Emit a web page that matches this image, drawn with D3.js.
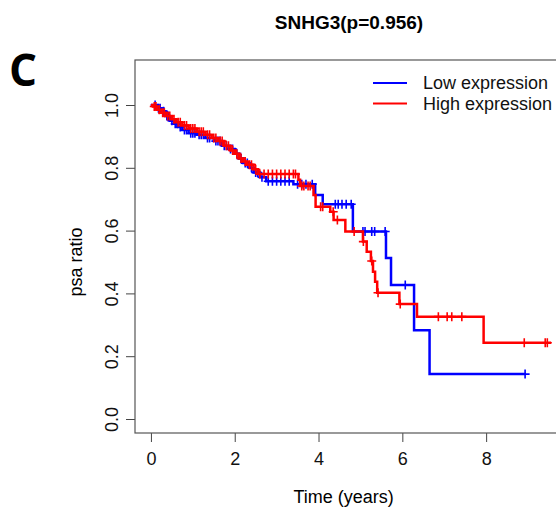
<!DOCTYPE html>
<meta charset="utf-8">
<script src="https://d3js.org/d3.v7.min.js"></script>
<style>
  body { margin: 0; background: #fff; }
  text { font-family: "Liberation Sans", Arial, sans-serif; }
</style>
<div id="chart"></div>
<script>
// Kaplan-Meier steps: time (years) and ratio after each drop
var lowTimes = [0.15, 0.25, 0.35, 0.45, 0.55, 0.65, 0.75, 0.9, 1.1, 1.3, 1.5, 1.7, 1.85, 2.0, 2.1, 2.2, 2.35, 2.45, 2.6, 2.75, 3.4, 3.92, 4.1, 4.82, 5.61, 5.73, 6.28, 6.65];
var lowSurv  = [0.99, 0.98, 0.965, 0.95, 0.94, 0.93, 0.92, 0.91, 0.905, 0.895, 0.885, 0.87, 0.86, 0.845, 0.83, 0.815, 0.8, 0.785, 0.77, 0.757, 0.748, 0.713, 0.684, 0.597, 0.513, 0.427, 0.283, 0.143];
var lowCensor = [0.1, 0.18, 0.22, 0.3, 0.38, 0.42, 0.5, 0.58, 0.62, 0.7, 0.8, 0.85, 0.95, 1.0, 1.05, 1.15, 1.2, 1.25, 1.35, 1.4, 1.55, 1.6, 1.65, 1.75, 1.8, 1.9, 1.95, 2.05, 2.15, 2.25, 2.3, 2.4, 2.5, 2.55, 2.65, 2.8, 2.9, 3.0, 3.1, 3.2, 3.3, 3.5, 3.6, 3.7, 3.85, 4.4, 4.47, 4.56, 4.66, 4.78, 5.06, 5.11, 5.27, 5.34, 5.59, 6.07, 8.93];
var lowEnd = 8.95;

var highTimes = [0.05, 0.15, 0.25, 0.35, 0.5, 0.6, 0.75, 0.9, 1.1, 1.3, 1.45, 1.6, 1.75, 1.9, 2.0, 2.1, 2.2, 2.3, 2.45, 2.55, 3.52, 3.56, 3.88, 3.93, 4.28, 4.36, 4.64, 5.06, 5.15, 5.25, 5.3, 5.35, 5.4, 5.93, 6.35, 7.94];
var highSurv  = [0.995, 0.985, 0.975, 0.965, 0.955, 0.945, 0.935, 0.925, 0.915, 0.905, 0.895, 0.885, 0.87, 0.855, 0.845, 0.83, 0.82, 0.81, 0.795, 0.78, 0.762, 0.742, 0.713, 0.676, 0.66, 0.634, 0.597, 0.565, 0.533, 0.503, 0.469, 0.437, 0.402, 0.366, 0.326, 0.243];
var highCensor = [0.08, 0.12, 0.2, 0.28, 0.32, 0.4, 0.45, 0.55, 0.65, 0.7, 0.8, 0.85, 0.95, 1.0, 1.05, 1.15, 1.2, 1.25, 1.35, 1.4, 1.5, 1.55, 1.65, 1.7, 1.8, 1.85, 1.95, 2.05, 2.15, 2.25, 2.35, 2.4, 2.5, 2.6, 2.7, 2.8, 2.9, 3.0, 3.1, 3.2, 3.3, 3.4, 3.45, 3.6, 3.65, 3.75, 3.8, 4.05, 4.1, 4.35, 4.45, 4.85, 5.07, 5.27, 5.42, 5.95, 6.86, 7.07, 7.18, 7.42, 8.91, 9.41, 9.46];
var highEnd = 9.55;

var xTicks = [0, 2, 4, 6, 8];
var yTicks = [0, 0.2, 0.4, 0.6, 0.8, 1.0];
var groups = ["Low expression", "High expression"];
var colors = ["#0000ff", "#ff0000"];

var W = 556, H = 515;
var box = {left: 135, top: 60, right: 567, bottom: 433};

var svg = d3.select("#chart").append("svg")
    .attr("width", W)
    .attr("height", H);

var x = d3.scaleLinear().domain([-0.38, 9.93]).range([box.left, box.right]);
var y = d3.scaleLinear().domain([0, 1]).range([419, 105]);

// title and panel letter
svg.append("text")
    .attr("x", (box.left + box.right) / 2 - 2)
    .attr("y", 29)
    .attr("text-anchor", "middle")
    .style("font-weight", "bold")
    .style("font-size", "19px")
    .text("SNHG3(p=0.956)");

svg.append("text")
    .attr("x", 9)
    .attr("y", 86)
    .style("font-family", "'Open Sans', sans-serif")
    .style("font-weight", "bold")
    .style("font-size", "44px")
    .text("C");

// axes
var xAxis = svg.append("g")
    .attr("transform", "translate(0," + box.bottom + ")")
    .call(d3.axisBottom(x).tickValues(xTicks).tickSize(9).tickPadding(10).tickFormat(d3.format("d")));
xAxis.select(".domain").remove();
xAxis.selectAll("line").attr("stroke", "#444");
xAxis.selectAll("text").style("font-size", "18px").attr("fill", "#111");

var yAxis = svg.append("g")
    .attr("transform", "translate(" + box.left + ",0)")
    .call(d3.axisLeft(y).tickValues(yTicks).tickSize(9).tickFormat(d3.format(".1f")));
yAxis.select(".domain").remove();
yAxis.selectAll("line").attr("stroke", "#444");
yAxis.selectAll("text")
    .attr("x", 0).attr("dy", "0.35em")
    .attr("text-anchor", "middle")
    .attr("transform", "translate(-23,0) rotate(-90)")
    .style("font-size", "18px").attr("fill", "#111");

svg.append("text")
    .attr("transform", "translate(76," + y(0.5) + ") rotate(-90)")
    .attr("text-anchor", "middle")
    .attr("dy", "0.35em")
    .style("font-size", "18px")
    .text("psa ratio");

svg.append("text")
    .attr("x", x(4.6))
    .attr("y", 503)
    .attr("text-anchor", "middle")
    .style("font-size", "18px")
    .text("Time (years)");

// plot frame
svg.append("rect")
    .attr("x", box.left).attr("y", box.top)
    .attr("width", box.right - box.left).attr("height", box.bottom - box.top)
    .attr("fill", "none").attr("stroke", "#555").attr("stroke-width", 1.2);

// curves
function stepPoints(times, surv, end) {
  var pts = [[0, 1]];
  times.forEach(function(t, i) { pts.push([t, surv[i]]); });
  pts.push([end, surv[surv.length - 1]]);
  return pts;
}
function survAt(times, surv, t) {
  var s = 1;
  for (var i = 0; i < times.length; i++) { if (times[i] <= t) s = surv[i]; }
  return s;
}

var line = d3.line()
    .x(function(d) { return x(d[0]); })
    .y(function(d) { return y(d[1]); })
    .curve(d3.curveStepAfter);

var series = [
  {times: lowTimes, surv: lowSurv, censor: lowCensor, end: lowEnd, color: colors[0]},
  {times: highTimes, surv: highSurv, censor: highCensor, end: highEnd, color: colors[1]}
];

series.forEach(function(s) {
  svg.append("path")
      .datum(stepPoints(s.times, s.surv, s.end))
      .attr("fill", "none")
      .attr("stroke", s.color)
      .attr("stroke-width", 2.5)
      .attr("d", line);

  svg.append("g").selectAll("path")
    .data(s.censor)
    .join("path")
      .attr("transform", function(t) { return "translate(" + x(t) + "," + y(survAt(s.times, s.surv, t)) + ")"; })
      .attr("d", "M-4.5,0H4.5M0,-4.5V4.5")
      .attr("stroke", s.color)
      .attr("stroke-width", 1.6)
      .attr("fill", "none");
});

// legend
var legend = svg.append("g").selectAll("g")
  .data(groups)
  .join("g")
    .attr("transform", function(d, i) { return "translate(373," + (83 + i * 20.5) + ")"; });
legend.append("line")
    .attr("x1", 0).attr("x2", 34)
    .attr("stroke", function(d, i) { return colors[i]; })
    .attr("stroke-width", 2);
legend.append("text")
    .attr("x", 50)
    .attr("dy", "0.35em")
    .style("font-size", "18px")
    .attr("fill", "#111")
    .text(function(d) { return d; });
</script>
